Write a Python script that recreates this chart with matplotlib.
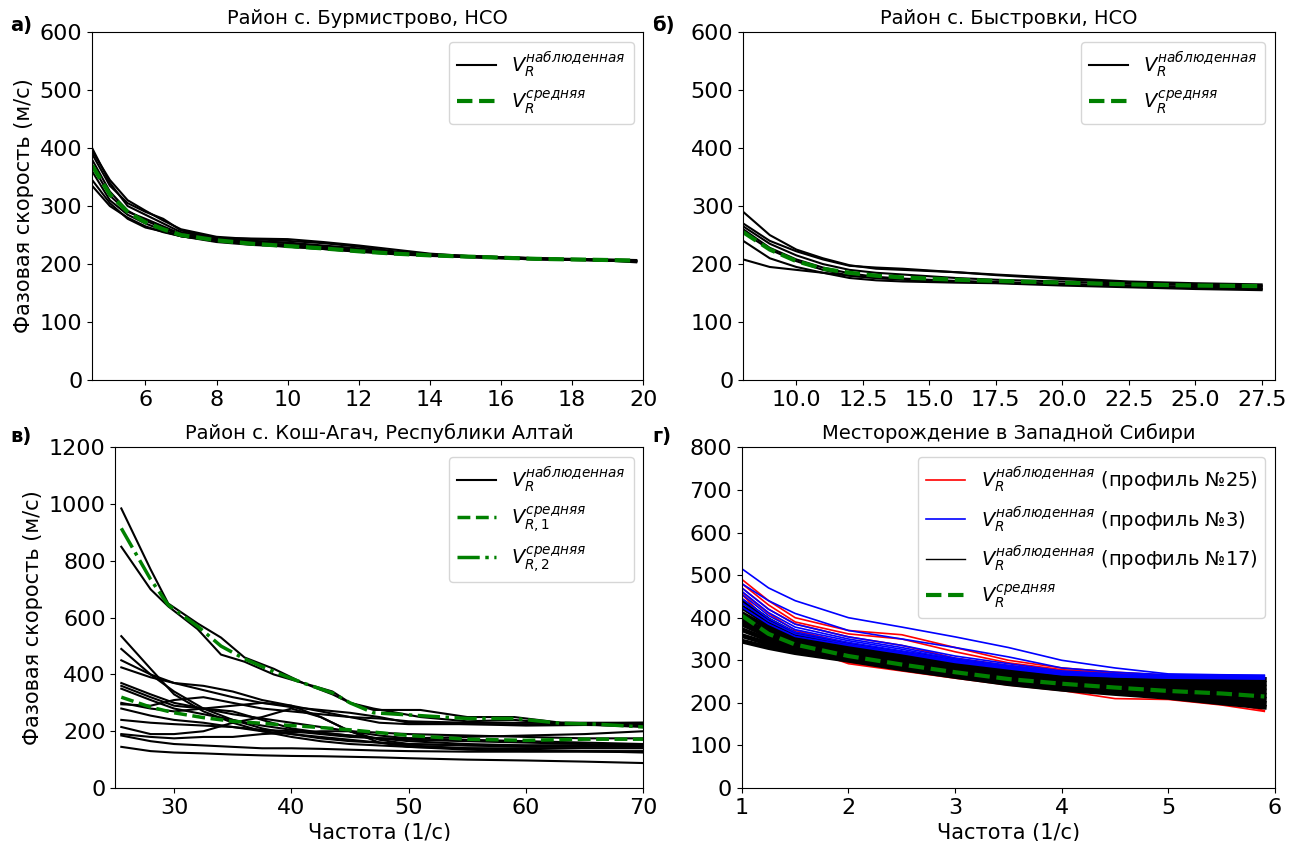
import numpy as np
import matplotlib
matplotlib.use("Agg")
import matplotlib.pyplot as plt

# ---- panel a: Бурмистрово
xa = [4.5, 5, 5.5, 6, 6.5, 7, 8, 9, 10, 11, 12, 13, 14, 15, 16, 17, 18, 19, 19.8]
obs_a = [
    [400, 340, 300, 285, 270, 255, 245, 240, 236, 230, 225, 220, 216, 213, 211, 209, 208, 206, 203],
    [390, 335, 305, 290, 278, 258, 245, 244, 243, 238, 232, 225, 218, 214, 212, 210, 208, 206, 205],
    [335, 300, 280, 265, 255, 248, 240, 235, 230, 226, 222, 218, 215, 212, 210, 208, 207, 206, 205],
    [345, 305, 278, 263, 256, 248, 238, 233, 230, 226, 221, 217, 214, 212, 210, 208, 207, 206, 204],
    [380, 325, 292, 275, 262, 250, 242, 238, 233, 228, 223, 219, 216, 213, 211, 210, 208, 207, 206],
    [370, 318, 290, 278, 265, 252, 244, 240, 237, 232, 227, 220, 216, 214, 212, 210, 209, 208, 207],
    [360, 310, 285, 270, 258, 248, 240, 236, 232, 228, 223, 219, 216, 213, 211, 209, 208, 207, 205],
    [395, 345, 310, 292, 275, 260, 247, 243, 240, 236, 230, 222, 217, 214, 212, 210, 208, 207, 206],
]
mean_a = [370, 320, 290, 272, 260, 250, 241, 235, 231, 227, 222, 218, 215, 213, 211, 209, 208, 207, 206]

# ---- panel b: Быстровки
xb = [8, 9, 10, 11, 12, 13, 14, 15, 16, 17.5, 20, 22.5, 25, 27.5]
obs_b = [
    [290, 250, 225, 210, 198, 192, 190, 188, 186, 182, 176, 170, 167, 165],
    [270, 240, 222, 208, 197, 194, 192, 189, 186, 181, 174, 168, 165, 163],
    [265, 235, 215, 200, 190, 185, 182, 179, 176, 173, 170, 166, 164, 162],
    [255, 225, 205, 190, 180, 176, 173, 171, 170, 168, 165, 162, 160, 158],
    [240, 210, 195, 185, 176, 172, 170, 169, 168, 167, 163, 160, 157, 155],
    [208, 195, 190, 185, 180, 176, 174, 172, 170, 168, 165, 162, 159, 157],
    [260, 228, 208, 194, 184, 178, 175, 173, 171, 169, 166, 163, 161, 160],
]
mean_b = [255, 225, 205, 192, 185, 180, 177, 175, 173, 171, 168, 165, 163, 162]

# ---- panel c: Кош-Агач
xc_hi = [25.5, 28, 29.5, 32, 34, 36, 38.5, 41, 43.5, 45, 47, 51, 55, 59, 63, 66, 70]
hi_c = [
    [985, 770, 650, 580, 530, 460, 420, 370, 340, 300, 275, 275, 250, 250, 230, 228, 230],
    [850, 700, 640, 560, 470, 445, 400, 370, 330, 300, 280, 250, 235, 240, 225, 222, 215],
]
mean_c2 = [915, 735, 645, 570, 500, 455, 410, 370, 335, 300, 265, 255, 245, 245, 228, 225, 215]

xc_lo = [25.5, 28, 30, 32.5, 35, 37.5, 40, 42.5, 45, 47.5, 50, 55, 60, 65, 70]
lo_c = [
    [535, 420, 330, 270, 230, 200, 180, 165, 155, 150, 145, 140, 140, 140, 140],
    [490, 400, 340, 280, 240, 210, 190, 175, 165, 160, 155, 150, 145, 145, 145],
    [450, 400, 370, 360, 340, 310, 290, 270, 250, 230, 225, 225, 225, 225, 225],
    [425, 390, 370, 345, 320, 300, 285, 275, 265, 250, 230, 225, 220, 222, 220],
    [370, 330, 300, 280, 260, 245, 230, 215, 200, 185, 175, 170, 165, 160, 155],
    [360, 320, 290, 280, 290, 300, 290, 250, 200, 160, 145, 135, 130, 130, 130],
    [350, 310, 280, 260, 240, 220, 205, 195, 185, 175, 165, 155, 150, 150, 150],
    [300, 280, 270, 280, 270, 240, 210, 195, 185, 175, 170, 165, 160, 155, 150],
    [295, 290, 310, 320, 300, 280, 270, 260, 250, 245, 235, 230, 230, 230, 230],
    [280, 255, 240, 230, 215, 200, 190, 180, 170, 160, 150, 140, 135, 130, 125],
    [240, 230, 225, 220, 215, 205, 200, 190, 180, 175, 175, 180, 185, 190, 200],
    [215, 190, 190, 200, 230, 250, 280, 250, 200, 170, 155, 150, 150, 150, 150],
    [190, 180, 175, 180, 180, 190, 195, 200, 200, 195, 190, 185, 180, 175, 175],
    [185, 165, 155, 150, 145, 140, 140, 138, 135, 132, 130, 128, 128, 128, 128],
    [145, 130, 125, 122, 118, 115, 113, 112, 110, 108, 105, 100, 97, 93, 88],
]
mean_c1 = [320, 285, 265, 248, 235, 228, 220, 213, 205, 195, 185, 172, 168, 172, 172]

# ---- panel d: Западная Сибирь
xd = [1.0, 1.25, 1.5, 2.0, 2.5, 3.0, 3.5, 4.0, 4.5, 5.0, 5.5, 5.9]
black_d = [
    [440, 395, 362, 335, 317, 300, 282, 266, 260, 257, 256, 255],
    [425, 385, 355, 330, 311, 294, 276, 261, 254, 250, 248, 246],
    [410, 375, 348, 325, 305, 288, 270, 256, 248, 243, 240, 237],
    [395, 366, 342, 320, 300, 282, 265, 251, 243, 236, 232, 228],
    [385, 357, 336, 315, 295, 277, 259, 246, 237, 230, 224, 218],
    [372, 348, 330, 310, 290, 272, 254, 241, 232, 224, 216, 209],
    [358, 339, 324, 305, 285, 267, 250, 237, 227, 219, 208, 199],
    [345, 330, 318, 300, 280, 262, 245, 232, 222, 213, 200, 190],
]
blue_d = [
    [515, 470, 440, 400, 378, 355, 330, 300, 282, 268, 266, 265],
    [480, 440, 410, 370, 350, 330, 308, 282, 272, 266, 265, 264],
    [470, 420, 385, 355, 335, 310, 292, 275, 268, 264, 263, 262],
    [462, 412, 378, 350, 330, 305, 288, 272, 266, 262, 261, 260],
    [455, 405, 372, 346, 326, 302, 286, 270, 264, 261, 260, 259],
    [445, 398, 366, 342, 322, 299, 284, 269, 263, 260, 259, 258],
    [435, 392, 362, 338, 319, 297, 282, 267, 262, 259, 258, 257],
    [425, 385, 356, 335, 316, 295, 280, 266, 261, 258, 257, 256],
]
red_d = [
    [490, 440, 400, 370, 360, 330, 300, 282, 272, 265, 262, 258],
    [480, 430, 390, 362, 350, 320, 294, 278, 270, 263, 260, 256],
    [470, 420, 385, 355, 335, 305, 288, 275, 268, 262, 258, 255],
    [460, 410, 370, 340, 320, 300, 284, 272, 262, 255, 248, 240],
    [455, 390, 340, 295, 278, 260, 244, 230, 222, 212, 205, 182],
    [445, 385, 335, 292, 275, 258, 242, 229, 210, 208, 195, 180],
]
mean_d = [405, 362, 337, 310, 290, 272, 256, 245, 236, 228, 222, 215]

lab_obs = r'$V_R^{наблюденная}$'
lab_mean = r'$V_R^{средняя}$'
ylab = 'Фазовая скорость (м/с)'
xlab = 'Частота (1/с)'

fig = plt.figure(figsize=(12.97, 8.41), dpi=100)
ax_a = fig.add_axes([0.071, 0.548, 0.425, 0.414])
ax_b = fig.add_axes([0.573, 0.548, 0.410, 0.414])
ax_c = fig.add_axes([0.089, 0.063, 0.407, 0.405])
ax_d = fig.add_axes([0.572, 0.063, 0.411, 0.405])

# a)
for i, y in enumerate(obs_a):
    ax_a.plot(xa, y, 'k-', lw=1.5, label=lab_obs if i == 0 else None)
ax_a.plot(xa, mean_a, '--', color='green', lw=3, label=lab_mean)
ax_a.set_xlim(4.5, 20)
ax_a.set_ylim(0, 600)
ax_a.set_xticks([6, 8, 10, 12, 14, 16, 18, 20])
ax_a.set_title('Район с. Бурмистрово, НСО', fontsize=14)
ax_a.set_ylabel(ylab, fontsize=15)

# b)
for i, y in enumerate(obs_b):
    ax_b.plot(xb, y, 'k-', lw=1.5, label=lab_obs if i == 0 else None)
ax_b.plot(xb, mean_b, '--', color='green', lw=3, label=lab_mean)
ax_b.set_xlim(8, 28)
ax_b.set_ylim(0, 600)
ax_b.set_xticks([10, 12.5, 15, 17.5, 20, 22.5, 25, 27.5])
ax_b.set_title('Район с. Быстровки, НСО', fontsize=14)

# c)
for i, y in enumerate(hi_c):
    ax_c.plot(xc_hi, y, 'k-', lw=1.5, label=lab_obs if i == 0 else None)
for y in lo_c:
    ax_c.plot(xc_lo, y, 'k-', lw=1.5)
ax_c.plot(xc_lo, mean_c1, '--', color='green', lw=2.5, label=r'$V_{R,1}^{средняя}$')
ax_c.plot(xc_hi, mean_c2, '-.', color='green', lw=2.5, label=r'$V_{R,2}^{средняя}$')
ax_c.set_xlim(25, 70)
ax_c.set_ylim(0, 1200)
ax_c.set_xticks([30, 40, 50, 60, 70])
ax_c.set_title('Район с. Кош-Агач, Республики Алтай', fontsize=14)
ax_c.set_ylabel(ylab, fontsize=15)
ax_c.set_xlabel(xlab, fontsize=15)

# d) red first, then the black band, blue on top
for y in red_d:
    h_red, = ax_d.plot(xd, y, 'r-', lw=1.2)
for y in black_d:
    ax_d.plot(xd, y, 'k-', lw=3.5)
for y in blue_d:
    h_blue, = ax_d.plot(xd, y, 'b-', lw=1.2)
h_mean, = ax_d.plot(xd, mean_d, '--', color='green', lw=3)
leg_k, = ax_d.plot([], [], 'k-', lw=1)
ax_d.legend([h_red, h_blue, leg_k, h_mean],
            [lab_obs + ' (профиль №25)', lab_obs + ' (профиль №3)',
             lab_obs + ' (профиль №17)', lab_mean],
            loc='upper right', fontsize=14)
ax_d.set_xlim(1, 6)
ax_d.set_ylim(0, 800)
ax_d.set_yticks(range(0, 801, 100))
ax_d.set_title('Месторождение в Западной Сибири', fontsize=14)
ax_d.set_xlabel(xlab, fontsize=15)

for ax in [ax_a, ax_b, ax_c]:
    ax.legend(loc='upper right', fontsize=14)
for ax in [ax_a, ax_b, ax_c, ax_d]:
    ax.tick_params(labelsize=16)

for txt, x, y in [('а)', 0.008, 0.963), ('б)', 0.503, 0.963),
                  ('в)', 0.008, 0.475), ('г)', 0.503, 0.475)]:
    fig.text(x, y, txt, fontsize=14, fontweight='bold')

fig.savefig('out.png', dpi=100)
